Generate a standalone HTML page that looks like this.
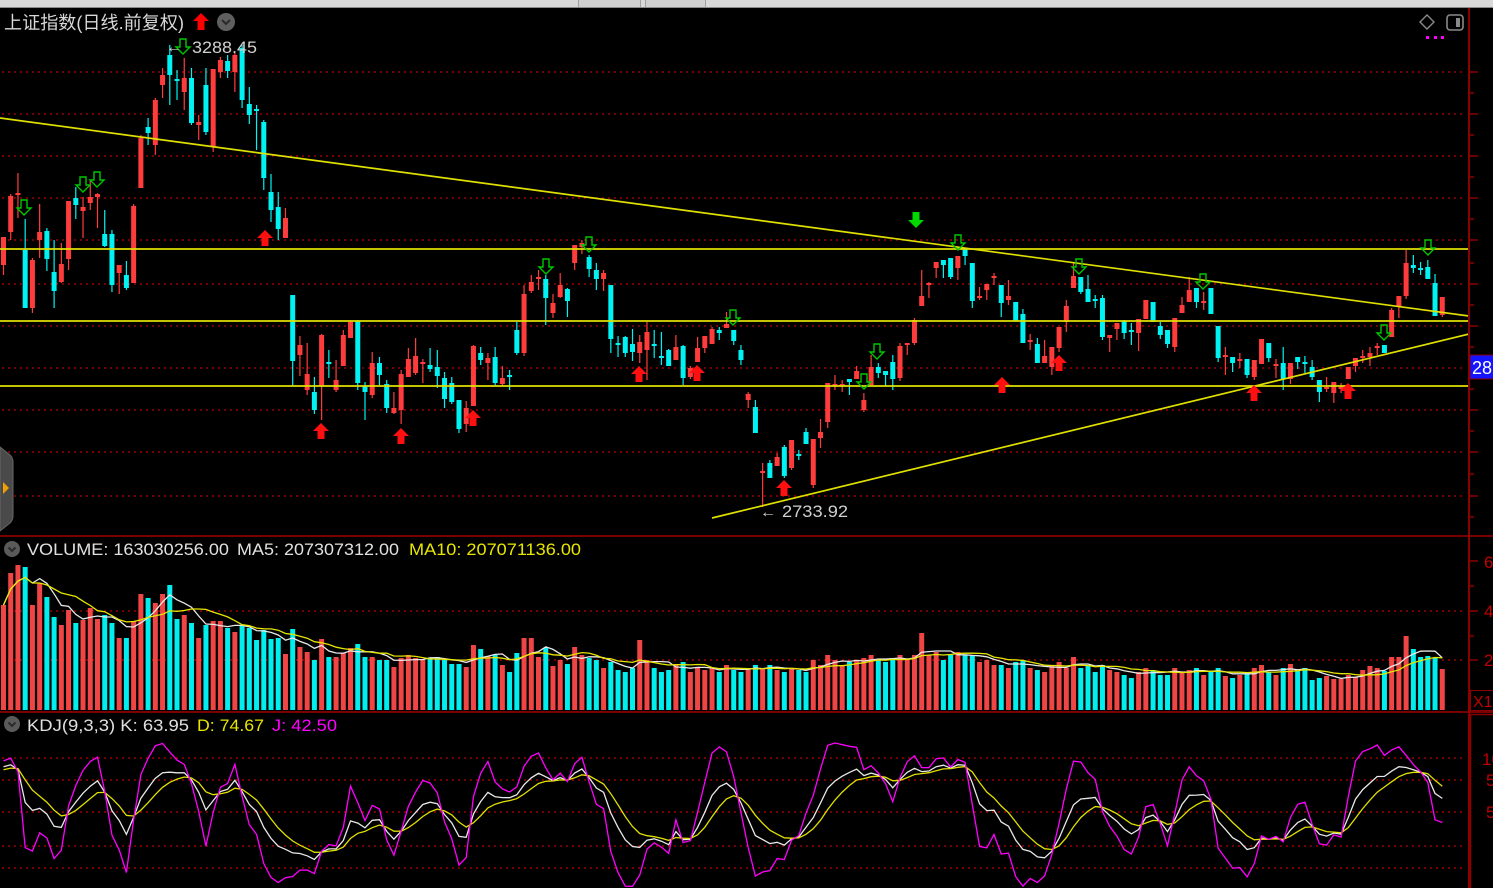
<!DOCTYPE html>
<html><head><meta charset="utf-8">
<style>
html,body{margin:0;padding:0;background:#000;width:1493px;height:888px;overflow:hidden}
svg{display:block}
text{font-family:"Liberation Sans","Noto Sans CJK SC",sans-serif}
</style></head><body>
<svg id="s" width="1493" height="888" viewBox="0 0 1493 888" xmlns="http://www.w3.org/2000/svg">
<defs>
<clipPath id="kclip"><rect x="0" y="714" width="1468" height="174"/></clipPath>
<clipPath id="mclip"><rect x="0" y="8" width="1468" height="527"/></clipPath>
</defs>
<rect width="1493" height="888" fill="#000"/>
<!-- top bar -->
<rect x="0" y="0" width="1493" height="7" fill="#d8d8d8"/>
<rect x="0" y="7" width="1493" height="1" fill="#8a8a8a"/>
<rect x="578" y="0" width="62" height="7" fill="#cfcfcf"/>
<rect x="646" y="0" width="59" height="7" fill="#cfcfcf"/>
<line x1="578.5" y1="0" x2="578.5" y2="7" stroke="#a0a0a0"/>
<line x1="640.5" y1="0" x2="640.5" y2="7" stroke="#a0a0a0"/>
<line x1="645.5" y1="0" x2="645.5" y2="7" stroke="#a0a0a0"/>
<line x1="705.5" y1="0" x2="705.5" y2="7" stroke="#a0a0a0"/>

<!-- grid dotted -->
<g stroke="#a00000" stroke-width="1.5" stroke-dasharray="2 4" fill="none">
<line x1="2" y1="72" x2="1466" y2="72"/>
<line x1="2" y1="114" x2="1466" y2="114"/>
<line x1="2" y1="156" x2="1466" y2="156"/>
<line x1="2" y1="198" x2="1466" y2="198"/>
<line x1="2" y1="240" x2="1466" y2="240"/>
<line x1="2" y1="284" x2="1466" y2="284"/>
<line x1="2" y1="326" x2="1466" y2="326"/>
<line x1="2" y1="368" x2="1466" y2="368"/>
<line x1="2" y1="410" x2="1466" y2="410"/>
<line x1="2" y1="452" x2="1466" y2="452"/>
<line x1="2" y1="496" x2="1466" y2="496"/>
<line x1="2" y1="611" x2="1466" y2="611"/>
<line x1="2" y1="660" x2="1466" y2="660"/>
<line x1="2" y1="758" x2="1466" y2="758"/>
<line x1="2" y1="780" x2="1466" y2="780"/>
<line x1="2" y1="812" x2="1466" y2="812"/>
<line x1="2" y1="846" x2="1466" y2="846"/>
<line x1="2" y1="868" x2="1466" y2="868"/>
</g>

<g id="cand"></g>
<g id="vol"></g>
<g id="volma"></g>
<g id="kdj" clip-path="url(#kclip)"></g>

<!-- trend lines -->
<g stroke="#e0e000" stroke-width="1.7" fill="none" clip-path="url(#mclip)">
<line x1="0" y1="118" x2="1469" y2="316"/>
<line x1="0" y1="249" x2="1469" y2="249"/>
<line x1="0" y1="321" x2="1469" y2="321"/>
<line x1="0" y1="386" x2="1469" y2="386"/>
<line x1="712" y1="518" x2="1469" y2="334"/>
</g>

<g id="arrows"></g>

<!-- labels in chart -->
<text x="166" y="52" font-size="16" fill="#d0d0d0">←</text>
<text x="192" y="53" font-size="17" fill="#d0d0d0" textLength="65" lengthAdjust="spacingAndGlyphs">3288.45</text>
<text x="760" y="517" font-size="16" fill="#d0d0d0">←</text>
<text x="782" y="517" font-size="17" fill="#d0d0d0" textLength="66" lengthAdjust="spacingAndGlyphs">2733.92</text>

<!-- dividers -->
<rect x="0" y="535" width="1493" height="2" fill="#7a0000"/>
<rect x="0" y="711" width="1493" height="2" fill="#7a0000"/>

<!-- right axis -->
<rect x="1468" y="8" width="2" height="880" fill="#8b0000"/>
<g stroke="#8b0000" stroke-width="1.5">
<line x1="1469" y1="72" x2="1478" y2="72"/><line x1="1469" y1="93" x2="1474" y2="93"/>
<line x1="1469" y1="114" x2="1478" y2="114"/><line x1="1469" y1="135" x2="1474" y2="135"/>
<line x1="1469" y1="156" x2="1478" y2="156"/><line x1="1469" y1="177" x2="1474" y2="177"/>
<line x1="1469" y1="198" x2="1478" y2="198"/><line x1="1469" y1="219" x2="1474" y2="219"/>
<line x1="1469" y1="240" x2="1478" y2="240"/><line x1="1469" y1="263" x2="1474" y2="263"/>
<line x1="1469" y1="284" x2="1478" y2="284"/><line x1="1469" y1="305" x2="1474" y2="305"/>
<line x1="1469" y1="326" x2="1478" y2="326"/><line x1="1469" y1="347" x2="1474" y2="347"/>
<line x1="1469" y1="368" x2="1478" y2="368"/><line x1="1469" y1="389" x2="1474" y2="389"/>
<line x1="1469" y1="410" x2="1478" y2="410"/><line x1="1469" y1="431" x2="1474" y2="431"/>
<line x1="1469" y1="452" x2="1478" y2="452"/><line x1="1469" y1="474" x2="1474" y2="474"/>
<line x1="1469" y1="496" x2="1478" y2="496"/><line x1="1469" y1="517" x2="1474" y2="517"/>
<line x1="1469" y1="561" x2="1478" y2="561"/><line x1="1469" y1="586" x2="1474" y2="586"/>
<line x1="1469" y1="611" x2="1478" y2="611"/><line x1="1469" y1="636" x2="1474" y2="636"/>
<line x1="1469" y1="660" x2="1478" y2="660"/>
</g>
<rect x="1470" y="355" width="25" height="24" fill="#1414ff" stroke="#8b0000" stroke-width="1"/>
<text x="1472" y="374" font-size="18" fill="#ffffff">28</text>
<g fill="#c00000" font-size="17">
<text x="1484" y="568">6</text>
<text x="1484" y="617">4</text>
<text x="1484" y="666">2</text>
</g>
<rect x="1470.5" y="690.5" width="26" height="20" fill="none" stroke="#8b0000"/>
<text x="1473" y="707" font-size="16" fill="#c00000">X1</text>
<rect x="1470.5" y="714.5" width="26" height="176" fill="none" stroke="#8b0000" stroke-width="1.5"/>
<g fill="#c00000" font-size="17">
<text x="1482" y="765">100</text>
<text x="1486" y="786">50</text>
<text x="1486" y="818">50</text>
</g>

<!-- top-right icons -->
<polygon points="1427,15 1434,22 1427,29 1420,22" fill="none" stroke="#8a8a8a" stroke-width="1.4"/>
<rect x="1447" y="15" width="16" height="15" rx="3" fill="none" stroke="#8a8a8a" stroke-width="1.6"/>
<rect x="1456" y="18" width="4" height="9" fill="#8a8a8a"/>
<rect x="1426" y="36" width="3" height="3" fill="#ff00ff"/>
<rect x="1434" y="36" width="3" height="3" fill="#ff00ff"/>
<rect x="1441" y="36" width="3" height="3" fill="#ff00ff"/>

<!-- left tab -->
<path d="M0 447 L10 455 Q13 458 13 462 L13 516 Q13 520 10 523 L0 531 Z" fill="#4a4a4a" stroke="#666" stroke-width="1"/>
<path d="M3 482 L9 488 L3 494 Z" fill="#f0a000"/>

<!-- headers -->
<text x="4" y="29" font-size="18" fill="#d8d8d8" textLength="180" lengthAdjust="spacingAndGlyphs">上证指数(日线.前复权)</text>
<polygon points="201,13 209,21 204.5,21 204.5,30 197.5,30 197.5,21 193,21" fill="#ff0000"/>
<circle cx="226" cy="22" r="9" fill="#5f5f5f"/>
<polyline points="222,20 226,24 230,20" fill="none" stroke="#2a2a2a" stroke-width="2"/>

<circle cx="12" cy="549" r="8" fill="#5a5a5a"/>
<polyline points="8.5,547.5 12,551 15.5,547.5" fill="none" stroke="#2a2a2a" stroke-width="2"/>
<text x="27" y="555" font-size="16.5" fill="#e0e0e0" textLength="202" lengthAdjust="spacingAndGlyphs">VOLUME: 163030256.00</text>
<text x="237" y="555" font-size="16.5" fill="#e0e0e0" textLength="162" lengthAdjust="spacingAndGlyphs">MA5: 207307312.00</text>
<text x="409" y="555" font-size="16.5" fill="#e6e600" textLength="172" lengthAdjust="spacingAndGlyphs">MA10: 207071136.00</text>

<circle cx="12" cy="724" r="8" fill="#5a5a5a"/>
<polyline points="8.5,722.5 12,726 15.5,722.5" fill="none" stroke="#2a2a2a" stroke-width="2"/>
<text x="27" y="731" font-size="16.5" fill="#e0e0e0" textLength="162" lengthAdjust="spacingAndGlyphs">KDJ(9,3,3)  K: 63.95</text>
<text x="197" y="731" font-size="16.5" fill="#e6e600" textLength="67" lengthAdjust="spacingAndGlyphs">D: 74.67</text>
<text x="272" y="731" font-size="16.5" fill="#ff00ff" textLength="65" lengthAdjust="spacingAndGlyphs">J: 42.50</text>
</svg>
<script>
(function(){
var D=[
['r',237,265,237,275],['r',196,232,194,240],['r',193,195,173,218],['c',250,308,219,308],['r',260,308,258,313],['r',232,240,204,258],['c',231,259,228,271],['c',272,291,240,308],['r',264,282,243,283],['r',201,259,201,270],
['c',198,205,187,219],['r',207,211,197,238],['r',197,203,180,210],['r',194,197,193,228],['c',234,246,210,247],['c',234,285,230,292],['r',265,273,265,294],['c',275,288,261,290],['r',206,283,204,283],['r',138,188,135,188],
['c',127,133,118,145],['r',100,145,98,155],['r',75,85,68,98],['c',55,75,45,105],['c',79,81,70,100],['r',78,92,58,110],['c',78,123,68,125],['r',122,125,115,140],['c',85,132,68,135],['r',69,147,69,152],
['r',60,72,57,78],['c',61,71,55,78],['r',55,72,51,92],['c',48,100,45,108],['c',104,115,87,124],['c',109,111,105,150],['c',122,178,120,190],['c',192,210,174,222],['c',207,229,192,240],['r',218,238,208,238],
['c',295,361,295,386],['r',345,355,336,376],['r',374,390,343,395],['c',392,410,377,414],['r',335,386,334,420],['c',362,364,350,378],['r',380,390,360,392],['r',335,366,330,366],['r',322,338,320,338],['c',321,383,320,390],
['c',386,392,382,420],['r',363,395,352,398],['c',363,375,357,385],['c',384,408,380,413],['r',408,413,392,414],['r',374,410,370,424],['r',359,377,348,377],['r',356,373,338,375],['r',362,364,359,383],['c',365,369,348,372],
['c',367,376,350,388],['c',378,399,372,408],['c',383,402,377,404],['c',400,429,400,433],['r',408,424,401,432],['r',346,406,345,406],['c',353,360,347,365],['r',358,363,353,380],['c',357,383,347,386],['r',378,384,366,386],
['c',375,377,370,390],['c',330,353,322,355],['r',294,353,285,356],['r',282,291,275,293],['r',277,279,270,290],['c',279,298,275,325],['r',303,313,294,318],['r',285,297,273,298],['c',289,301,288,317],['r',245,263,245,270],
['r',243,247,240,254],['c',257,269,255,277],['c',270,279,263,290],['r',273,279,270,291],['c',285,339,285,353],['c',343,345,336,357],['c',337,353,336,357],['c',344,352,329,361],['r',342,353,335,363],['r',332,350,322,380],
['c',344,346,330,358],['c',356,358,332,365],['c',350,366,349,366],['r',347,360,335,360],['c',346,378,345,385],['r',368,377,366,379],['r',348,362,337,362],['r',336,348,336,353],['r',329,344,327,344],['c',330,333,327,340],
['r',324,328,312,328],['c',330,341,330,345],['c',350,360,345,365],['r',394,400,392,408],['c',407,433,400,433],['r',471,473,463,507],['c',463,478,460,478],['r',457,466,453,466],['c',447,476,445,478],['r',440,468,440,470],
['c',454,456,450,460],['c',432,444,428,444],['r',439,485,439,488],['r',432,438,419,448],['r',383,422,383,428],['r',384,386,375,390],['r',384,386,380,392],['c',379,382,379,395],['r',371,379,366,379],['r',400,410,393,412],
['r',367,385,355,385],['c',367,373,363,378],['c',371,375,371,386],['c',362,379,355,390],['r',346,378,343,381],['r',343,345,343,355],['r',320,343,318,345],['r',296,306,270,306],['r',283,285,282,298],['r',262,268,262,278],
['c',260,265,260,278],['c',258,277,258,279],['r',256,268,256,280],['c',249,256,248,265],['c',263,301,263,308],['r',296,298,287,300],['r',284,290,284,300],['r',276,278,273,285],['c',285,303,285,317],['r',296,300,280,305],
['c',302,321,302,321],['c',314,343,309,343],['r',340,342,334,350],['c',344,363,338,363],['r',356,363,340,363],['r',347,367,347,375],['r',327,348,327,352],['r',306,322,300,332],['r',276,288,262,288],['c',277,292,277,294],
['c',289,302,275,302],['c',299,301,295,308],['c',298,337,295,340],['r',335,338,335,352],['r',323,329,323,340],['c',321,333,320,339],['c',330,332,323,345],['r',319,333,319,351],['r',300,319,300,319],['c',302,322,302,322],
['c',326,335,322,339],['c',330,344,330,348],['r',318,347,318,352],['r',305,313,297,313],['r',290,302,277,302],['c',288,302,288,308],['r',301,303,292,310],['c',288,314,288,314],['c',326,358,326,362],['r',355,357,347,375],
['c',357,363,357,372],['r',359,361,353,368],['c',359,375,359,378],['r',360,377,360,380],['r',339,364,339,364],['c',343,358,343,362],['r',364,366,359,378],['c',363,379,347,390],['r',363,379,363,384],['c',357,362,357,369],
['c',362,364,356,373],['c',367,377,360,380],['c',380,392,380,402],['r',387,389,377,392],['r',382,393,382,403],['r',387,389,383,393],['r',367,379,367,379],['r',358,366,358,372],['r',356,358,350,363],['r',353,357,347,366],
['r',346,348,343,355],['c',345,353,345,353],['r',310,337,308,337],['r',296,307,296,318],['r',263,296,250,299],['c',265,268,255,273],['c',268,270,262,275],['c',267,279,260,279],['c',283,316,274,316],['r',297,315,297,317]
];
var V=[605,573,565,567,605,583,597,617,625,610,
623,620,608,619,615,623,638,638,621,594,
598,603,594,585,619,615,623,638,625,621,
621,628,632,625,628,640,630,639,638,654,
629,647,652,660,639,657,657,653,648,644,
657,657,660,660,667,658,655,658,660,658,
657,660,664,664,667,645,649,656,655,665,
672,653,638,638,657,648,666,660,664,647,
655,658,660,668,662,670,672,668,640,660,
668,672,670,665,662,672,668,670,668,672,
665,670,672,668,665,668,665,670,672,668,
670,672,660,665,655,660,665,662,660,658,
655,660,662,658,655,660,655,633,655,652,
660,655,652,655,655,662,660,665,665,668,
662,660,668,670,672,665,662,668,657,668,
665,672,665,670,672,675,678,672,668,670,
675,675,668,672,670,668,675,672,668,676,
678,675,672,668,665,672,675,668,664,670,
668,680,678,676,679,679,675,677,670,666,
668,671,657,657,636,649,657,656,658,669];
var NS='http://www.w3.org/2000/svg';
var RED='#ff3c3c', CY='#00f2f2';
function X(i){return 3.5+7.23*i;}
function add(pid,tag,attrs){var e=document.createElementNS(NS,tag);for(var k in attrs)e.setAttribute(k,attrs[k]);document.getElementById(pid).appendChild(e);return e;}
var rw='',cw='',rb='',cb='',rv='',cv='',H=[];
for(var i=0;i<D.length;i++){
  var d=D[i],x=X(i),t=d[0],top=Math.min(d[1],d[2]),bot=Math.max(d[1],d[2]);
  var hi=Math.min(d[3],top),lo=Math.max(d[4],bot);
  var hh=Math.max(bot-top,1.6);
  var w='M'+x.toFixed(2)+' '+hi+'V'+lo;
  var b='M'+(x-2.5).toFixed(2)+' '+top+'h5v'+hh+'h-5z';
  var v='M'+(x-2.5).toFixed(2)+' '+V[i]+'h5V710h-5z';
  if(t==='r'){rw+=w;rb+=b;rv+=v;}else{cw+=w;cb+=b;cv+=v;}
  H.push(710-V[i]);
}
add('cand','path',{d:rw,stroke:RED,'stroke-width':1.2,fill:'none'});
add('cand','path',{d:cw,stroke:CY,'stroke-width':1.2,fill:'none'});
add('cand','path',{d:rb,fill:RED});
add('cand','path',{d:cb,fill:CY});
add('vol','path',{d:rv,fill:'#f04545'});
add('vol','path',{d:cv,fill:'#00eeee'});
function ma(n){var r=[];for(var i=0;i<H.length;i++){var s=0,c=0;for(var j=Math.max(0,i-n+1);j<=i;j++){s+=H[j];c++;}r.push(s/c);}return r;}
function pts(arr,f){var p=[];for(var i=0;i<arr.length;i++){p.push(X(i).toFixed(1)+','+f(arr[i]).toFixed(1));}return p.join(' ');}
var m5=ma(5),m10=ma(10);
add('volma','polyline',{points:pts(m5,function(m){return 710-m;}),fill:'none',stroke:'#e8e8e8','stroke-width':1.3});
add('volma','polyline',{points:pts(m10,function(m){return 710-m;}),fill:'none',stroke:'#e6e600','stroke-width':1.3});
var K=88,Dd=88,ks=[],ds=[],js=[];
for(var i=0;i<D.length;i++){
  var d=D[i],top=Math.min(d[1],d[2]),bot=Math.max(d[1],d[2]);
  var close=d[0]==='r'?top:bot;
  var mh=1e9,ml=-1e9;
  for(var j=Math.max(0,i-8);j<=i;j++){var dj=D[j];var tj=Math.min(dj[1],dj[2]),bj=Math.max(dj[1],dj[2]);mh=Math.min(mh,dj[3],tj);ml=Math.max(ml,dj[4],bj);}
  var rsv=ml>mh?(ml-close)/(ml-mh)*100:50;
  K=2/3*K+rsv/3; Dd=2/3*Dd+K/3; var J=3*K-2*Dd;
  ks.push(K);ds.push(Dd);js.push(J);
}
function ky(v){return 868-1.1*v;}
add('kdj','polyline',{points:pts(ks,ky),fill:'none',stroke:'#e8e8e8','stroke-width':1.3});
add('kdj','polyline',{points:pts(ds,ky),fill:'none',stroke:'#e0e000','stroke-width':1.3});
add('kdj','polyline',{points:pts(js,ky),fill:'none',stroke:'#ff00ff','stroke-width':1.3});
// arrows
var green=[[24,208],[83,185],[97,180],[183,47],[546,267],[589,245],[733,318],[864,382],[877,352],[958,243],[1079,267],[1203,282],[1384,333],[1428,248]];
green.forEach(function(a){var cx=a[0],cy=a[1];
  add('arrows','polygon',{points:(cx-3)+','+(cy-8)+' '+(cx+3)+','+(cy-8)+' '+(cx+3)+','+cy+' '+(cx+7)+','+cy+' '+cx+','+(cy+7)+' '+(cx-7)+','+cy+' '+(cx-3)+','+cy,fill:'none',stroke:'#00c800','stroke-width':1.4});
});
var reds=[[265,238],[321,431],[401,436],[473,418],[639,374],[697,373],[784,488],[1002,385],[1059,363],[1254,393],[1348,391]];
reds.forEach(function(a){var cx=a[0],cy=a[1];
  add('arrows','polygon',{points:cx+','+(cy-8)+' '+(cx+8)+','+cy+' '+(cx+3.5)+','+cy+' '+(cx+3.5)+','+(cy+8)+' '+(cx-3.5)+','+(cy+8)+' '+(cx-3.5)+','+cy+' '+(cx-8)+','+cy,fill:'#ff1010'});
});
var gx=916,gy=220;
add('arrows','polygon',{points:(gx-3.5)+','+(gy-8)+' '+(gx+3.5)+','+(gy-8)+' '+(gx+3.5)+','+gy+' '+(gx+8)+','+gy+' '+gx+','+(gy+8)+' '+(gx-8)+','+gy+' '+(gx-3.5)+','+gy,fill:'#00d800'});
})();
</script>
</body></html>
